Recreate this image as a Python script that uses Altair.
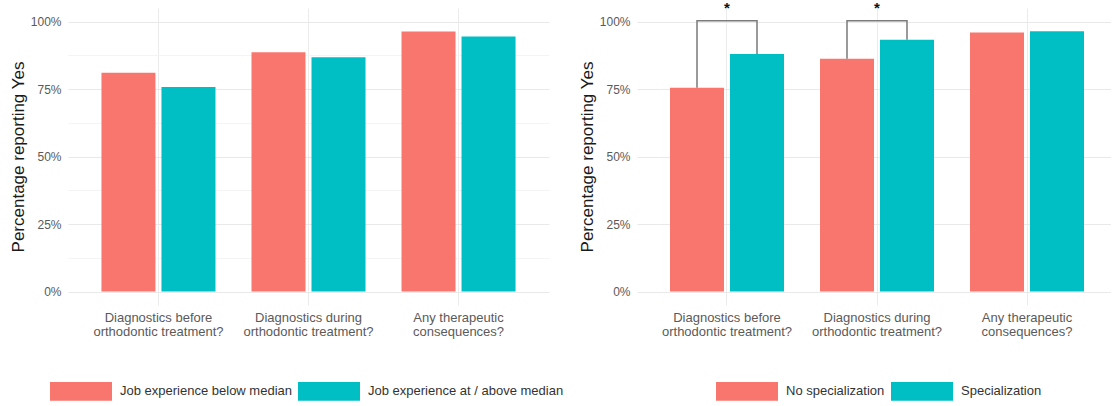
import altair as alt
import pandas as pd

# ---- data ----
questions = [
    "Diagnostics before\northodontic treatment?",
    "Diagnostics during\northodontic treatment?",
    "Any therapeutic\nconsequences?",
]
left_groups = ["Job experience below median", "Job experience at / above median"]
left_below = [0.81, 0.886, 0.963]
left_above = [0.757, 0.868, 0.944]

right_groups = ["No specialization", "Specialization"]
right_no = [0.755, 0.862, 0.959]
right_yes = [0.88, 0.932, 0.964]
significance = ["*", "*", ""]
bracket_level = 1.003
star_level = 1.05

y_ticks = [0, 0.125, 0.25, 0.375, 0.5, 0.625, 0.75, 0.875, 1.0]
colors = ["#F8766D", "#00BFC4"]

FONT = "Liberation Sans"


def bars_df(groups, a, b):
    rows = []
    for q, va, vb in zip(questions, a, b):
        rows.append({"question": q, "group": groups[0], "value": va})
        rows.append({"question": q, "group": groups[1], "value": vb})
    return pd.DataFrame(rows)


def panel(groups, a, b, width, x_scale, legend_x, with_brackets=False):
    df = bars_df(groups, a, b)
    offset_scale = alt.Scale(type="band", paddingInner=0.1, paddingOuter=0)
    x_enc = alt.X(
        "question:N",
        sort=questions,
        title=None,
        scale=x_scale,
        axis=alt.Axis(
            labelExpr="split(datum.label, '\\n')",
            labelAngle=0,
            labelFontSize=13,
            labelLineHeight=14,
            labelColor="#5a5a5a",
            labelFont=FONT,
            labelPadding=6,
            ticks=False,
            domain=False,
            grid=True,
            gridColor="#ebebeb",
            bandPosition=0.5,
            tickBand="center",
        ),
    )
    y_enc = alt.Y(
        "value:Q",
        scale=alt.Scale(domain=[-0.05, 1.05], nice=False, zero=False),
        axis=alt.Axis(
            values=y_ticks,
            labelExpr="(round(datum.value*8) % 2 == 0) ? format(datum.value, '.0%') : ''",
            title="Percentage reporting Yes",
            titleFont=FONT,
            titleFontSize=17,
            titleFontWeight="normal",
            titleColor="#1a1a1a",
            titlePadding=3,
            labelFont=FONT,
            labelFontSize=12,
            labelColor="#5a5a5a",
            labelPadding=7,
            ticks=False,
            domain=False,
            gridColor=alt.condition(
                "round(datum.value*8) % 2 == 1", alt.value("#f4f4f4"), alt.value("#e9e9e9")
            ),
        ),
    )
    bars = alt.Chart(df).mark_bar().encode(
        x=x_enc,
        y=y_enc,
        xOffset=alt.XOffset("group:N", sort=groups, scale=offset_scale),
        color=alt.Color(
            "group:N",
            scale=alt.Scale(domain=groups, range=colors),
            title=None,
            legend=alt.Legend(
                orient="none",
                legendX=legend_x,
                legendY=352,
                direction="horizontal",
                symbolType="M-1,-0.3H1V0.3H-1Z",
                symbolSize=3844,
                symbolStrokeWidth=0,
                symbolOpacity=1,
                labelFont=FONT,
                labelFontSize=13,
                labelColor="#333333",
                labelOffset=8,
                labelLimit=0,
                columnPadding=6,
                padding=0,
            ),
        ),
    )
    layers = [bars]
    if with_brackets:
        rows = []
        stars = []
        for q, va, vb, s in zip(questions, a, b, significance):
            if s:
                rows += [
                    {"question": q, "group": groups[0], "value": va, "k": 0},
                    {"question": q, "group": groups[0], "value": bracket_level, "k": 1},
                    {"question": q, "group": groups[1], "value": bracket_level, "k": 2},
                    {"question": q, "group": groups[1], "value": vb, "k": 3},
                ]
                stars.append({"question": q, "sig": s, "value": star_level})
        bdf = pd.DataFrame(rows)
        sdf = pd.DataFrame(stars)
        brackets = alt.Chart(bdf).mark_line(color="#7a7a7a", strokeWidth=1.5).encode(
            x=alt.X("question:N", sort=questions, scale=x_scale),
            xOffset=alt.XOffset("group:N", sort=groups, scale=offset_scale),
            y="value:Q",
            order="k:Q",
            detail="question:N",
        )
        star = alt.Chart(sdf).mark_text(
            fontSize=15, fontWeight="bold", color="#111111", baseline="middle", font=FONT
        ).encode(
            x=alt.X("question:N", sort=questions, scale=x_scale),
            y="value:Q",
            text="sig:N",
        )
        layers += [brackets, star]
    return alt.layer(*layers).properties(
        width=width, height=297,
        view=alt.ViewBackground(stroke="transparent", strokeWidth=0),
    )


left = panel(
    left_groups, left_below, left_above, 481,
    alt.Scale(type="band", paddingInner=0.24, paddingOuter=0.223), -18,
)
right = panel(
    right_groups, right_no, right_yes, 474,
    alt.Scale(type="band", paddingInner=0.24, paddingOuter=0.2, align=0.55), 79,
    with_brackets=True,
)

chart = (
    alt.hconcat(left, right, spacing=88, bounds="flush")
    .resolve_scale(color="independent", xOffset="independent")
    .properties(padding={"left": 9, "top": 1, "right": 0, "bottom": 0})
    .configure_view(stroke="transparent", strokeWidth=0)
    .configure(background="white")
)

chart.save("out.html", embed_options={"renderer": "svg", "actions": False})
